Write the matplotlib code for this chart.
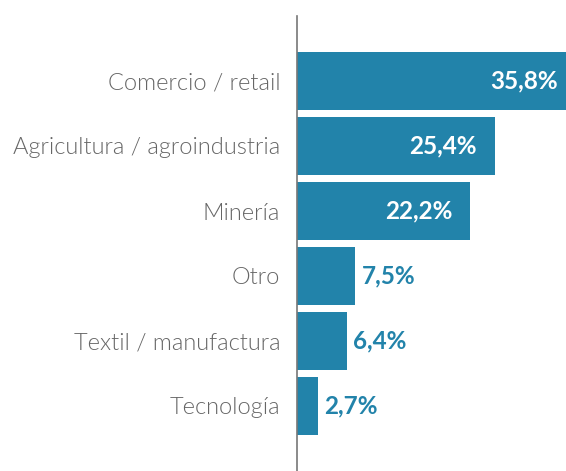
import matplotlib.pyplot as plt

sectores = ["Comercio / retail", "Agricultura / agroindustria", "Minería",
            "Otro", "Textil / manufactura", "Tecnología"]
valores = [35.8, 25.4, 22.2, 7.5, 6.4, 2.7]
etiquetas = ["35,8%", "25,4%", "22,2%", "7,5%", "6,4%", "2,7%"]

azul = "#2283aa"
gris = "#666666"

fig = plt.figure(figsize=(5.66, 4.71), dpi=100)
ax = fig.add_axes([297 / 566, 0, 1 - 297 / 566, 1 - 16 / 471])

y = list(range(len(sectores)))
ax.barh(y, valores, height=0.9, color=azul)
ax.set_xlim(0, 34.5)
ax.set_ylim(len(sectores), -1)

ax.set_yticks(y)
ax.set_yticklabels(sectores, fontsize=17, color=gris,
                   family=["Lato", "DejaVu Sans"], fontweight=300)
ax.tick_params(axis="y", length=0, pad=12)
ax.set_xticks([])

for s in ["top", "right", "bottom"]:
    ax.spines[s].set_visible(False)
ax.spines["left"].set_color("#777777")
ax.spines["left"].set_linewidth(1.2)

for yi, v, t in zip(y, valores, etiquetas):
    if v > 15:
        ax.annotate(t, (v, yi), xytext=(-13, 0), textcoords="offset points",
                    ha="right", va="center", color="white", fontsize=17.5,
                    fontweight="bold", family="Lato", annotation_clip=False)
    else:
        ax.annotate(t, (v, yi), xytext=(4.5, 0), textcoords="offset points",
                    ha="left", va="center", color=azul, fontsize=17.5,
                    fontweight="bold", family="Lato", annotation_clip=False)

fig.savefig("out.png", dpi=100)
